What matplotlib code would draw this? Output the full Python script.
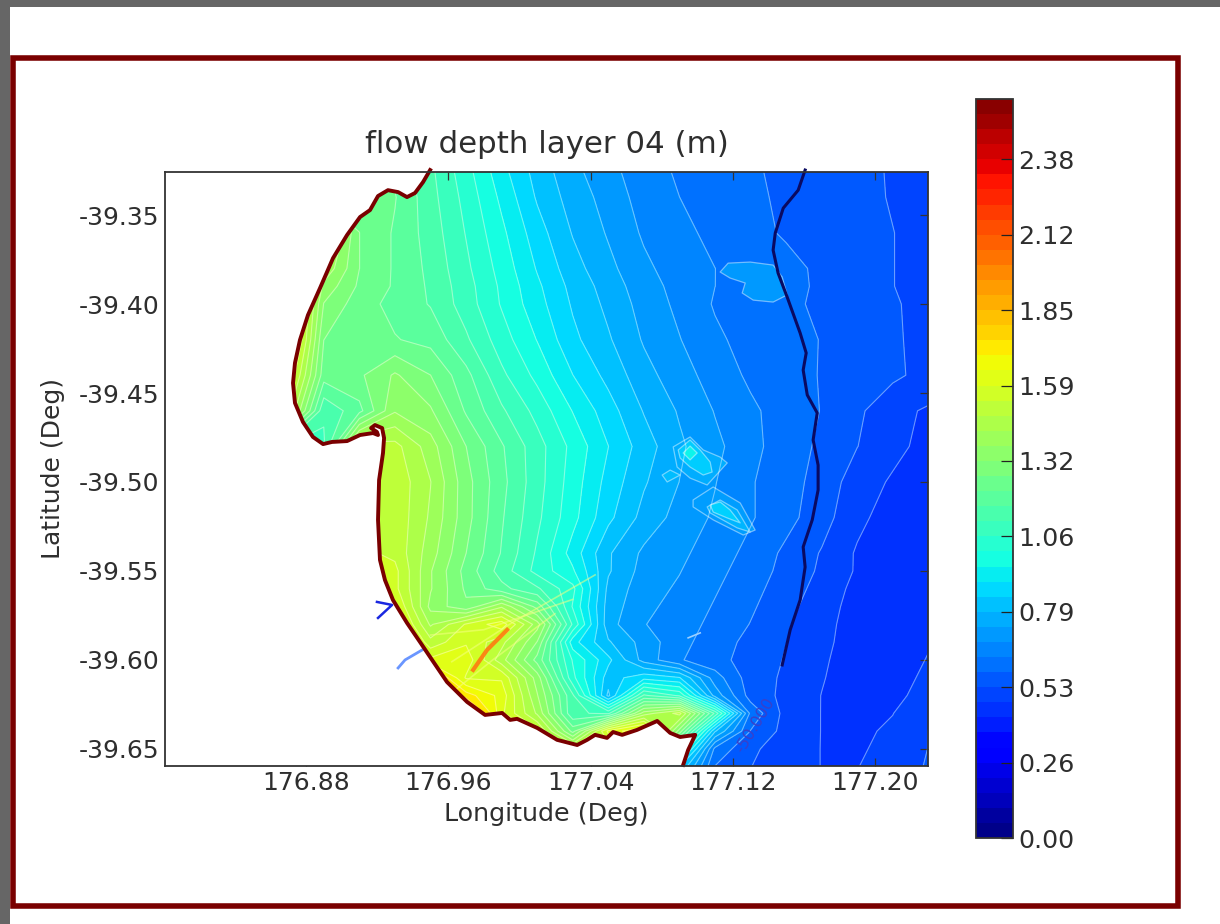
import numpy as np
import matplotlib
matplotlib.use("Agg")
import matplotlib.pyplot as plt
from matplotlib.patches import Rectangle

plt.rcParams["axes.unicode_minus"] = False
plt.rcParams["font.family"] = "DejaVu Sans"

# grid
grid_lon = [176.80, 176.84, 176.87, 176.89, 176.91, 176.93, 176.95, 176.97, 176.99, 177.01, 177.03,
            177.05, 177.07, 177.09, 177.11, 177.13, 177.15, 177.17, 177.19, 177.21, 177.23]
grid_lat = [-39.32, -39.34, -39.36, -39.38, -39.39, -39.40, -39.42, -39.44, -39.46, -39.48, -39.50,
            -39.52, -39.54, -39.55, -39.56, -39.57, -39.58, -39.59, -39.60, -39.61, -39.62,
            -39.63, -39.64, -39.65, -39.66]
flow_depth = [
    [1.20, 1.20, 1.20, 1.20, 1.20, 1.20, 1.12, 1.02, 0.91, 0.82, 0.75, 0.70, 0.655, 0.625, 0.605, 0.585, 0.575, 0.555, 0.54, 0.525, 0.51],
    [1.25, 1.25, 1.25, 1.25, 1.25, 1.22, 1.13, 1.04, 0.94, 0.84, 0.77, 0.72, 0.665, 0.635, 0.61, 0.595, 0.57, 0.56, 0.545, 0.525, 0.51],
    [1.50, 1.50, 1.50, 1.50, 1.27, 1.21, 1.14, 1.055, 0.965, 0.87, 0.79, 0.735, 0.68, 0.645, 0.625, 0.60, 0.575, 0.565, 0.545, 0.53, 0.51],
    [1.42, 1.42, 1.42, 1.42, 1.27, 1.21, 1.15, 1.07, 0.985, 0.895, 0.815, 0.755, 0.70, 0.66, 0.635, 0.62, 0.60, 0.57, 0.55, 0.53, 0.51],
    [1.70, 1.70, 1.70, 1.36, 1.26, 1.21, 1.155, 1.08, 0.995, 0.91, 0.83, 0.77, 0.71, 0.67, 0.635, 0.615, 0.595, 0.575, 0.55, 0.53, 0.51],
    [1.70, 1.70, 1.70, 1.32, 1.24, 1.20, 1.16, 1.085, 1.00, 0.92, 0.84, 0.78, 0.72, 0.675, 0.63, 0.61, 0.59, 0.575, 0.55, 0.535, 0.51],
    [1.70, 1.70, 1.70, 1.27, 1.23, 1.22, 1.20, 1.12, 1.03, 0.95, 0.86, 0.80, 0.735, 0.69, 0.645, 0.615, 0.60, 0.58, 0.56, 0.535, 0.515],
    [1.60, 1.60, 1.60, 1.24, 1.26, 1.33, 1.27, 1.18, 1.07, 0.99, 0.90, 0.83, 0.76, 0.71, 0.665, 0.625, 0.595, 0.58, 0.565, 0.54, 0.51],
    [1.50, 1.50, 1.50, 1.12, 1.20, 1.37, 1.33, 1.21, 1.12, 1.04, 0.95, 0.87, 0.79, 0.735, 0.685, 0.645, 0.61, 0.58, 0.54, 0.49, 0.47],
    [1.10, 1.10, 1.10, 1.10, 1.52, 1.50, 1.40, 1.27, 1.17, 1.08, 0.99, 0.90, 0.82, 0.75, 0.70, 0.655, 0.60, 0.575, 0.53, 0.49, 0.46],
    [1.55, 1.55, 1.55, 1.55, 1.55, 1.52, 1.43, 1.29, 1.18, 1.08, 0.98, 0.88, 0.80, 0.74, 0.69, 0.64, 0.60, 0.565, 0.50, 0.47, 0.45],
    [1.55, 1.55, 1.55, 1.55, 1.55, 1.52, 1.42, 1.29, 1.17, 1.07, 0.97, 0.86, 0.775, 0.72, 0.68, 0.64, 0.60, 0.55, 0.49, 0.45, 0.44],
    [1.55, 1.55, 1.55, 1.55, 1.55, 1.52, 1.40, 1.27, 1.16, 1.05, 0.93, 0.80, 0.73, 0.70, 0.66, 0.62, 0.57, 0.525, 0.47, 0.44, 0.44],
    [1.60, 1.60, 1.60, 1.60, 1.60, 1.55, 1.38, 1.25, 1.14, 1.04, 0.96, 0.80, 0.72, 0.69, 0.65, 0.61, 0.565, 0.52, 0.47, 0.44, 0.44],
    [1.60, 1.60, 1.60, 1.60, 1.60, 1.55, 1.38, 1.26, 1.18, 1.12, 1.02, 0.78, 0.71, 0.68, 0.64, 0.60, 0.555, 0.51, 0.46, 0.43, 0.44],
    [1.65, 1.65, 1.65, 1.65, 1.65, 1.60, 1.36, 1.28, 1.42, 1.25, 1.00, 0.77, 0.70, 0.67, 0.63, 0.59, 0.545, 0.50, 0.455, 0.43, 0.45],
    [1.70, 1.70, 1.70, 1.70, 1.70, 1.65, 1.42, 1.54, 1.62, 1.40, 1.05, 0.76, 0.69, 0.66, 0.62, 0.58, 0.535, 0.495, 0.45, 0.43, 0.46],
    [1.70, 1.70, 1.70, 1.70, 1.70, 1.70, 1.50, 1.58, 1.50, 1.32, 0.92, 0.80, 0.72, 0.65, 0.61, 0.565, 0.53, 0.49, 0.45, 0.435, 0.47],
    [1.75, 1.75, 1.75, 1.75, 1.75, 1.75, 1.60, 1.62, 1.45, 1.25, 1.00, 0.86, 0.72, 0.64, 0.60, 0.56, 0.525, 0.485, 0.445, 0.44, 0.48],
    [1.80, 1.80, 1.80, 1.80, 1.80, 1.80, 1.80, 1.58, 1.58, 1.35, 1.02, 0.82, 0.88, 0.85, 0.66, 0.555, 0.52, 0.48, 0.445, 0.45, 0.49],
    [1.85, 1.85, 1.85, 1.85, 1.85, 1.85, 1.85, 1.72, 1.62, 1.38, 1.12, 0.78, 1.12, 1.05, 0.72, 0.56, 0.515, 0.475, 0.45, 0.46, 0.50],
    [1.90, 1.90, 1.90, 1.90, 1.90, 1.90, 1.90, 1.90, 1.60, 1.42, 1.12, 1.10, 1.40, 1.50, 1.10, 0.62, 0.51, 0.475, 0.455, 0.475, 0.52],
    [1.90, 1.90, 1.90, 1.90, 1.90, 1.90, 1.90, 1.90, 1.90, 1.55, 1.25, 1.60, 1.70, 1.30, 0.80, 0.58, 0.51, 0.475, 0.465, 0.485, 0.53],
    [1.90, 1.90, 1.90, 1.90, 1.90, 1.90, 1.90, 1.90, 1.90, 1.70, 1.50, 1.50, 1.60, 1.05, 0.62, 0.54, 0.50, 0.475, 0.47, 0.49, 0.53],
    [1.90, 1.90, 1.90, 1.90, 1.90, 1.90, 1.90, 1.90, 1.90, 1.70, 1.50, 1.50, 1.60, 0.85, 0.58, 0.53, 0.50, 0.475, 0.475, 0.495, 0.535],
]

# closed isolines of the shoals: lon, lat, depth inside
patch_lon = [177.1129, 177.1174, 177.1298, 177.1427, 177.1478, 177.1506, 177.1427, 177.1315, 177.1253, 177.1270, 177.1185]
patch_lat = [-39.3820, -39.3770, -39.3764, -39.3781, -39.3848, -39.3949, -39.3989, -39.3978, -39.3938, -39.3882, -39.3854]
mount_a_lon = [177.0865, 177.0960, 177.1034, 177.1129, 177.1169, 177.1056, 177.0960, 177.0887]
mount_a_lat = [-39.4803, -39.4747, -39.4820, -39.4860, -39.4893, -39.5017, -39.4978, -39.4916]
mount_b_lon = [177.0893, 177.0960, 177.1017, 177.1073, 177.1084, 177.1034, 177.0960, 177.0904]
mount_b_lat = [-39.4820, -39.4764, -39.4820, -39.4888, -39.4944, -39.4961, -39.4916, -39.4865]
mount_c_lon = [177.0921, 177.0960, 177.1000, 177.0960]
mount_c_lat = [-39.4837, -39.4798, -39.4837, -39.4876]
blob_lon = [177.0803, 177.0848, 177.0904, 177.0831]
blob_lat = [-39.4961, -39.4933, -39.4961, -39.5000]
mount_d_lon = [177.0977, 177.1090, 177.1242, 177.1326, 177.1259, 177.1090, 177.0977]
mount_d_lat = [-39.5101, -39.5028, -39.5118, -39.5270, -39.5298, -39.5213, -39.5140]
mount_e_lon = [177.1056, 177.1129, 177.1225, 177.1298, 177.1225, 177.1073]
mount_e_lat = [-39.5140, -39.5101, -39.5157, -39.5281, -39.5258, -39.5174]
mount_f_lon = [177.1073, 177.1129, 177.1185, 177.1242, 177.1169, 177.1090]
mount_f_lat = [-39.5129, -39.5112, -39.5157, -39.5230, -39.5202, -39.5169]
shoal_depth = [0.71, 0.76, 0.85, 0.95, 0.80, 0.72, 0.78, 0.86]

# coastline
coast_lon = [176.9498, 176.9458, 176.9413, 176.9368, 176.9318, 176.9261, 176.9205, 176.9160, 176.9104, 176.9031,
             176.8952, 176.8879, 176.8811, 176.8766, 176.8738, 176.8727, 176.8738, 176.8783, 176.8839, 176.8896,
             176.8946, 176.9031, 176.9104, 176.9177, 176.9205, 176.9199, 176.9166, 176.9188, 176.9228, 176.9239,
             176.9233, 176.9211, 176.9205, 176.9216, 176.9244, 176.9289, 176.9368, 176.9441, 176.9509, 176.9593,
             176.9706, 176.9807, 176.9903, 176.9948, 176.9987, 177.0100, 177.0212, 177.0325, 177.0381, 177.0426,
             177.0493, 177.0527, 177.0578, 177.0662, 177.0775, 177.0848, 177.0904, 177.0989, 177.0949, 177.0921]
coast_lat = [-39.3247, -39.3315, -39.3376, -39.3399, -39.3371, -39.3360, -39.3393, -39.3472, -39.3511, -39.3612,
             -39.3742, -39.3910, -39.4062, -39.4202, -39.4331, -39.4444, -39.4556, -39.4663, -39.4747, -39.4787,
             -39.4775, -39.4770, -39.4736, -39.4725, -39.4736, -39.4719, -39.4697, -39.4680, -39.4697, -39.4753,
             -39.4837, -39.4989, -39.5213, -39.5438, -39.5551, -39.5663, -39.5792, -39.5899, -39.6000, -39.6124,
             -39.6236, -39.6309, -39.6298, -39.6337, -39.6331, -39.6382, -39.6449, -39.6478, -39.6449, -39.6421,
             -39.6438, -39.6405, -39.6421, -39.6393, -39.6343, -39.6410, -39.6433, -39.6421, -39.6506, -39.6590]

# source line
fault_lon = [177.1607, 177.1568, 177.1484, 177.1439, 177.1427, 177.1455, 177.1506, 177.1579, 177.1613, 177.1596, 177.1619,
             177.1675, 177.1652, 177.1680, 177.1680, 177.1647, 177.1596, 177.1607, 177.1579, 177.1523, 177.1478]
fault_lat = [-39.3247, -39.3360, -39.3461, -39.3601, -39.3697, -39.3826, -39.3961, -39.4163, -39.4275, -39.4371, -39.4511,
             -39.4612, -39.4764, -39.4905, -39.5045, -39.5213, -39.5365, -39.5478, -39.5663, -39.5831, -39.6028]

# streak in the south
streak_lon = [176.9931, 176.9818, 176.9740]
streak_lat = [-39.5831, -39.5944, -39.6056]
ray_a_lon = [177.0426, 176.9960, 176.9620]
ray_a_lat = [-39.5522, -39.5790, -39.6010]
ray_b_lon = [177.0300, 176.9800, 176.9500]
ray_b_lat = [-39.5660, -39.5830, -39.5860]
ray_c_lon = [177.0200, 176.9850, 176.9600]
ray_c_lat = [-39.5740, -39.6000, -39.6200]

# inundated bits on land
inland_a_lon = [176.9199, 176.9284, 176.9205]
inland_a_lat = [-39.5674, -39.5691, -39.5764]
inland_b_lon = [176.9453, 176.9357, 176.9318]
inland_b_lat = [-39.5944, -39.6000, -39.6045]
dash_lon = [177.0949, 177.1017]
dash_lat = [-39.5876, -39.5848]

x_ticks = [176.88, 176.96, 177.04, 177.12, 177.20]
y_ticks = [-39.35, -39.40, -39.45, -39.50, -39.55, -39.60, -39.65]
cbar_ticks = [0.0, 0.2645, 0.529, 0.7935, 1.058, 1.3225, 1.587, 1.8515, 2.116, 2.3805]
levels = np.arange(50) * 0.0529

x_min, x_max = 176.8007, 177.2298
y_min, y_max = -39.6596, -39.3258

W, H = 1220, 924
DARK_RED = "#7a0000"
TEXT = "#2e2e2e"

fig = plt.figure(figsize=(W / 100, H / 100), dpi=100, facecolor="white")

# grey page edge and red frame
fig.add_artist(Rectangle((0, 1 - 7 / H), 1, 7 / H, transform=fig.transFigure, color="#666666", lw=0))
fig.add_artist(Rectangle((0, 0), 10 / W, 1, transform=fig.transFigure, color="#666666", lw=0))
fig.add_artist(Rectangle((13 / W, 1 - 906 / H), 1165 / W, 848 / H, transform=fig.transFigure,
                         fill=False, edgecolor=DARK_RED, lw=4.0))

ax = fig.add_axes([165 / W, 1 - 766 / H, 763 / W, 594 / H])
cf = ax.contourf(grid_lon, grid_lat, flow_depth, levels=levels, cmap="jet")
ax.contour(grid_lon, grid_lat, flow_depth, levels=levels, colors="white", linewidths=0.8, alpha=0.42)

jet = plt.get_cmap("jet")
shoals = [(patch_lon, patch_lat), (mount_a_lon, mount_a_lat), (mount_b_lon, mount_b_lat), (mount_c_lon, mount_c_lat),
          (blob_lon, blob_lat), (mount_d_lon, mount_d_lat), (mount_e_lon, mount_e_lat), (mount_f_lon, mount_f_lat)]
for (lon, lat), depth in zip(shoals, shoal_depth):
    ax.fill(lon, lat, facecolor=jet(depth / levels[-1]), edgecolor=(1, 1, 1, 0.45), lw=0.9, joinstyle="round")

for lon, lat in [(ray_a_lon, ray_a_lat), (ray_b_lon, ray_b_lat), (ray_c_lon, ray_c_lat)]:
    ax.plot(lon, lat, color="#f4ff80", lw=1.2, alpha=0.55)
ax.plot(streak_lon, streak_lat, color="#ff7a10", lw=3, alpha=0.9)
ax.plot(dash_lon, dash_lat, color="#9ccfff", lw=1.2)

# land is white
land_lon = coast_lon + [x_min, x_min, coast_lon[0]]
land_lat = coast_lat + [y_min, y_max, y_max]
ax.fill(land_lon, land_lat, color="white", zorder=3)

ax.plot(inland_a_lon, inland_a_lat, color="#1a28e0", lw=1.8, zorder=4)
ax.plot(inland_b_lon, inland_b_lat, color="#6a96ff", lw=2.0, zorder=4)
ax.plot(coast_lon, coast_lat, color=DARK_RED, lw=2.8, zorder=5, clip_on=False)
ax.plot(fault_lon, fault_lat, color="#0a0a62", lw=2.2, zorder=5, clip_on=False)
ax.text(177.1326, -39.6365, "-50.000", color="#3a40c8", fontsize=11.5, rotation=59,
        ha="center", va="center", zorder=4)

ax.set_xlim(x_min, x_max)
ax.set_ylim(y_min, y_max)
ax.set_xticks(x_ticks)
ax.set_xticklabels(["%.2f" % v for v in x_ticks])
ax.set_yticks(y_ticks)
ax.set_yticklabels(["%.2f" % v for v in y_ticks])
ax.tick_params(direction="in", length=6, width=0.9, top=True, right=True, labelsize=18,
               labelcolor=TEXT, color="#333333", zorder=6)
ax.tick_params(axis="x", pad=3.5)
ax.tick_params(axis="y", pad=4)
for s in ax.spines.values():
    s.set_linewidth(1.3)
    s.set_color("#333333")
    s.set_zorder(6)
ax.set_title("flow depth layer 04 (m)", fontsize=22.2, color=TEXT, pad=14)
ax.set_xlabel("Longitude (Deg)", fontsize=18.3, color=TEXT, labelpad=5.5)
ax.set_ylabel("Latitude (Deg)", fontsize=18, color=TEXT, labelpad=10)

cax = fig.add_axes([976 / W, 1 - 838 / H, 37 / W, 739 / H])
cb = fig.colorbar(cf, cax=cax, ticks=cbar_ticks)
cb.ax.set_yticklabels(["%.2f" % v for v in cbar_ticks])
cb.ax.tick_params(direction="in", length=9, width=0.9, labelsize=18.3, labelcolor=TEXT, pad=4, color="#222222")
cb.outline.set_linewidth(1.3)
cb.outline.set_edgecolor("#333333")

fig.savefig("out.png", dpi=100)
